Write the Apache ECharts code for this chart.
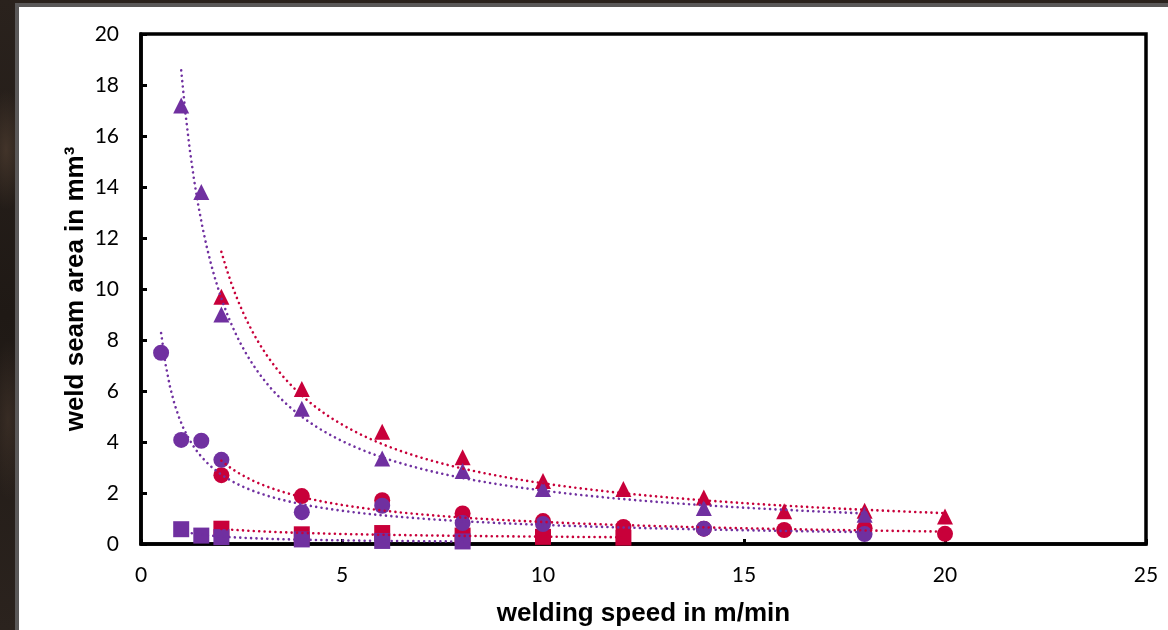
<!DOCTYPE html>
<html>
<head>
<meta charset="utf-8">
<script src="https://cdn.jsdelivr.net/npm/echarts@6/dist/echarts.min.js"></script>
<style>
  html, body { margin: 0; padding: 0; }
  body {
    width: 1168px; height: 630px; overflow: hidden; position: relative;
    background:
      radial-gradient(ellipse 20px 60px at 6px 150px, rgba(90,70,55,0.55), rgba(0,0,0,0)),
      radial-gradient(ellipse 18px 80px at 8px 420px, rgba(80,62,50,0.45), rgba(0,0,0,0)),
      linear-gradient(180deg, #2a221d 0%, #1f1915 50%, #2b231e 100%);
  }
  #panel {
    position: absolute; left: 15px; top: 3px; width: 1200px; height: 700px;
    background: #ffffff; border-left: 4px solid #5a5858; border-top: 4px solid #5a5858;
  }
  #chart { position: absolute; left: 0; top: 0; width: 1168px; height: 630px; }
</style>
</head>
<body>
<div id="panel"></div>
<div id="chart"></div>
<script>
// Welding speed (m/min) vs weld seam area (mm³) for four measurement sets,
// each with a power-law trend line fitted to its own points.
const RED = '#C8003A';
const PURPLE = '#7030A0';

const xTicks = [0, 5, 10, 15, 20, 25];
const yTicks = [0, 2, 4, 6, 8, 10, 12, 14, 16, 18, 20];

const redTriX = [2, 4, 6, 8, 10, 12, 14, 16, 18, 20];
const redTriY = [9.7, 6.08, 4.4, 3.4, 2.47, 2.16, 1.82, 1.28, 1.3, 1.08];

const purpleTriX = [1, 1.5, 2, 4, 6, 8, 10, 14, 18];
const purpleTriY = [17.2, 13.8, 9.0, 5.3, 3.35, 2.86, 2.16, 1.41, 1.15];

const redCircX = [2, 4, 6, 8, 10, 12, 14, 16, 18, 20];
const redCircY = [2.7, 1.88, 1.72, 1.2, 0.9, 0.67, 0.6, 0.55, 0.62, 0.4];

const purpleCircX = [0.5, 1, 1.5, 2, 4, 6, 8, 10, 14, 18];
const purpleCircY = [7.5, 4.08, 4.05, 3.3, 1.25, 1.5, 0.82, 0.78, 0.6, 0.39];

const redSqX = [2, 4, 6, 8, 10, 12];
const redSqY = [0.6, 0.38, 0.43, 0.33, 0.28, 0.25];

const purpleSqX = [1, 1.5, 2, 4, 6, 8];
const purpleSqY = [0.58, 0.33, 0.27, 0.18, 0.12, 0.1];

// Least-squares fit of y = a * x^b in log-log space, sampled over the data's x range.
function powerTrend(xs, ys) {
  const n = xs.length;
  const lx = xs.map(Math.log), ly = ys.map(Math.log);
  const mx = lx.reduce((s, v) => s + v, 0) / n;
  const my = ly.reduce((s, v) => s + v, 0) / n;
  let sxy = 0, sxx = 0;
  for (let i = 0; i < n; i++) { sxy += (lx[i] - mx) * (ly[i] - my); sxx += (lx[i] - mx) * (lx[i] - mx); }
  const b = sxy / sxx, a = Math.exp(my - b * mx);
  const x0 = Math.min(...xs), x1 = Math.max(...xs);
  const pts = [];
  const steps = 160;
  for (let k = 0; k <= steps; k++) {
    const x = x0 + (x1 - x0) * k / steps;
    pts.push([x, a * Math.pow(x, b)]);
  }
  return pts;
}

const zip = (xs, ys) => xs.map((x, i) => [x, ys[i]]);

function markers(name, xs, ys, symbol, color, size) {
  return {
    name, type: 'scatter', data: zip(xs, ys), symbol, symbolSize: size,
    itemStyle: { color, opacity: 1 }, z: 3, silent: true
  };
}
function trend(name, xs, ys, color) {
  return {
    name, type: 'line', data: powerTrend(xs, ys), showSymbol: false, symbol: 'none',
    smooth: false, z: 5, silent: true,
    lineStyle: { color, width: 2.6, type: [0.01, 5.4], cap: 'round' }
  };
}

const chart = echarts.init(document.getElementById('chart'), null, { renderer: 'canvas' });
const tickFont = { fontFamily: 'Lato', fontSize: 21, color: '#000' };
const titleFont = { fontFamily: 'Liberation Sans', fontSize: 26, fontWeight: 'bold', color: '#000' };

chart.setOption({
  animation: false,
  backgroundColor: 'transparent',
  grid: {
    left: 141, top: 34, right: 22, bottom: 86, containLabel: false, outerBoundsMode: 'none',
    show: true, borderColor: '#000', borderWidth: 3.5, backgroundColor: 'transparent'
  },
  xAxis: {
    type: 'value', min: xTicks[0], max: xTicks[xTicks.length - 1], interval: xTicks[1] - xTicks[0],
    name: 'welding speed in m/min', nameLocation: 'middle', nameGap: 57, nameMoveOverlap: false,
    nameTextStyle: titleFont,
    axisLine: { show: true, onZero: false, lineStyle: { color: '#000', width: 3.5 } },
    axisTick: { show: true, inside: true, length: 5, lineStyle: { color: '#000', width: 3 } },
    axisLabel: Object.assign({ margin: 21 }, tickFont),
    splitLine: { show: false }
  },
  yAxis: {
    type: 'value', min: yTicks[0], max: yTicks[yTicks.length - 1], interval: yTicks[1] - yTicks[0],
    name: 'weld seam area in mm³', nameLocation: 'middle', nameGap: 52, nameRotate: 90, nameMoveOverlap: false,
    nameTextStyle: titleFont,
    axisLine: { show: true, onZero: false, lineStyle: { color: '#000', width: 3.5 } },
    axisTick: { show: true, inside: true, length: 6, lineStyle: { color: '#000', width: 3 } },
    axisLabel: Object.assign({ margin: 22 }, tickFont),
    splitLine: { show: false }
  },
  series: [
    markers('red triangles', redTriX, redTriY, 'triangle', RED, 16),
    markers('red circles', redCircX, redCircY, 'circle', RED, 16),
    markers('red squares', redSqX, redSqY, 'rect', RED, 16),
    markers('purple triangles', purpleTriX, purpleTriY, 'triangle', PURPLE, 16),
    markers('purple circles', purpleCircX, purpleCircY, 'circle', PURPLE, 16),
    markers('purple squares', purpleSqX, purpleSqY, 'rect', PURPLE, 16),
    trend('red triangles trend', redTriX, redTriY, RED),
    trend('red circles trend', redCircX, redCircY, RED),
    trend('red squares trend', redSqX, redSqY, RED),
    trend('purple triangles trend', purpleTriX, purpleTriY, PURPLE),
    trend('purple circles trend', purpleCircX, purpleCircY, PURPLE),
    trend('purple squares trend', purpleSqX, purpleSqY, PURPLE)
  ]
});
</script>
</body>
</html>
